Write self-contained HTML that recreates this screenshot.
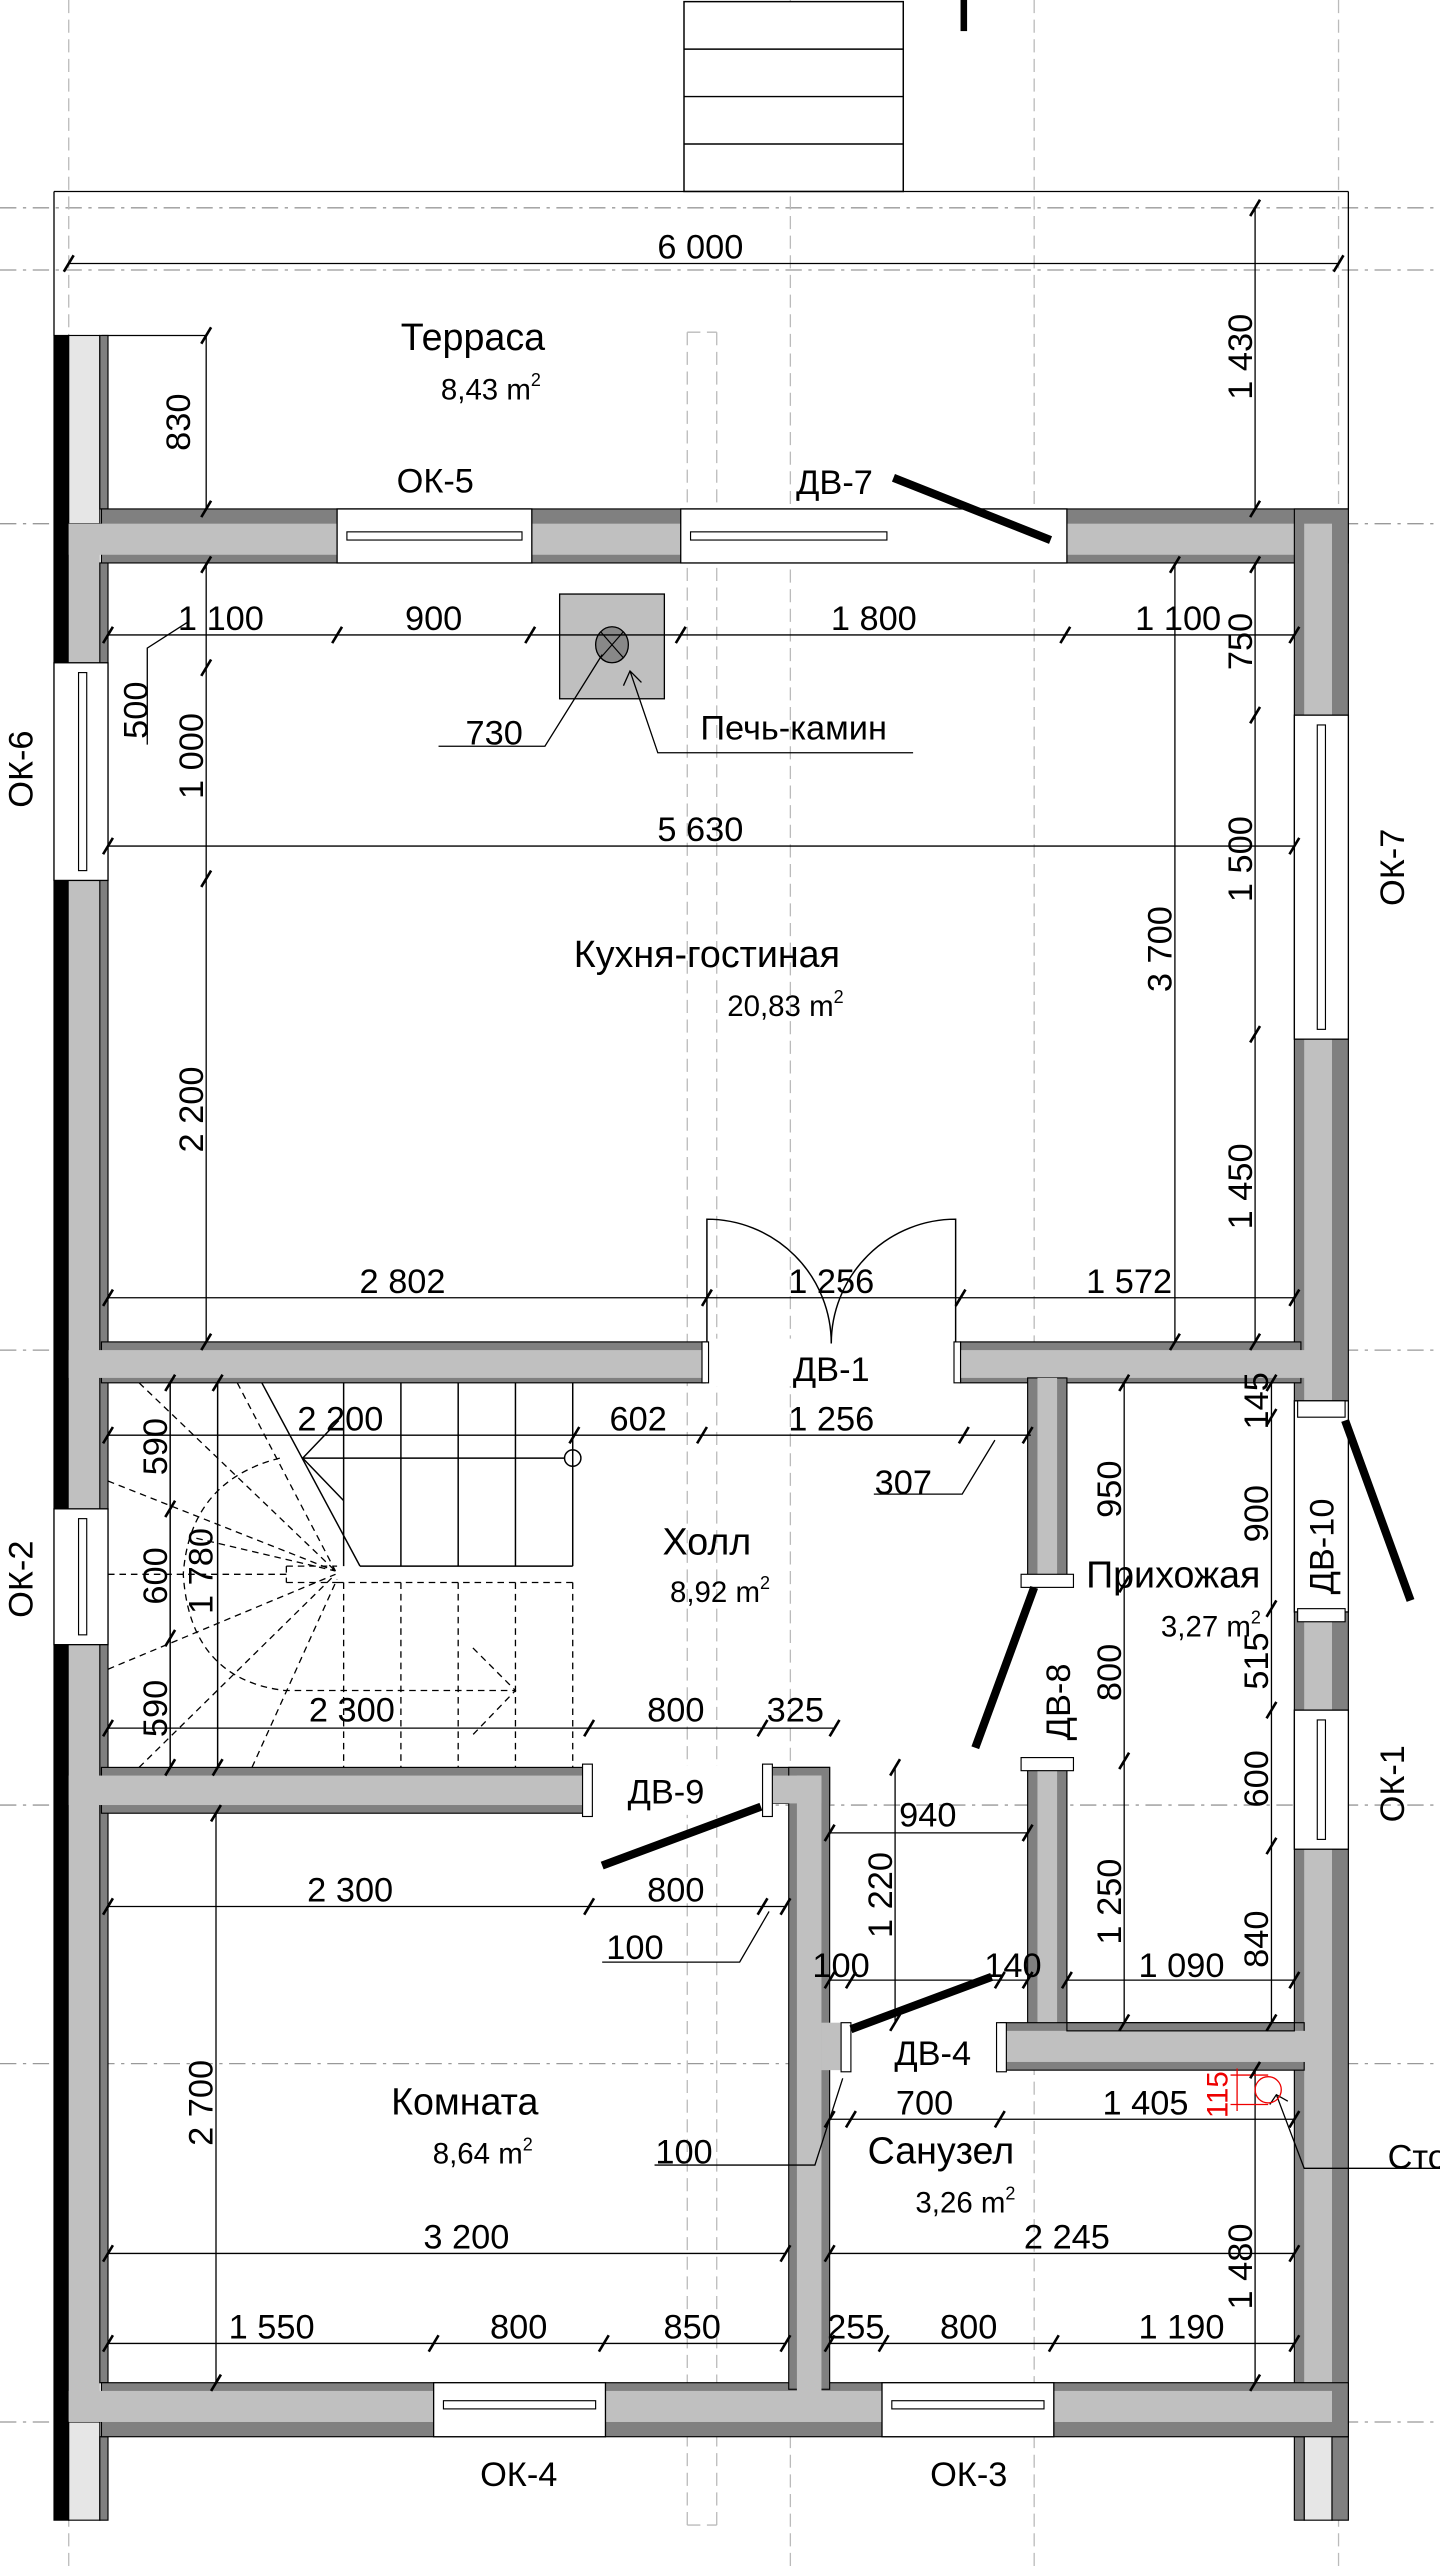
<!DOCTYPE html>
<html><head><meta charset="utf-8"><style>
html,body{margin:0;padding:0;background:#fff}
svg{display:block}
text{font-family:"Liberation Sans",sans-serif;fill:#000}
.d{font-size:21px}
.r{font-size:23px}
</style></head><body>
<svg width="1440" height="2566" viewBox="0 0 880 1568" preserveAspectRatio="none" xmlns="http://www.w3.org/2000/svg">
<defs>
<path id="t" d="M-3,5 L3,-5" stroke="#000" stroke-width="1.6"/>
</defs>
<!-- grid lines -->
<g stroke="#999" stroke-width="0.8" stroke-dasharray="10,4,2,4" fill="none">
<line x1="0" y1="127" x2="880" y2="127"/><line x1="0" y1="165" x2="880" y2="165"/>
<line x1="0" y1="320" x2="880" y2="320"/><line x1="0" y1="825" x2="880" y2="825"/>
<line x1="0" y1="1103" x2="880" y2="1103"/><line x1="0" y1="1261" x2="880" y2="1261"/>
<line x1="0" y1="1480" x2="880" y2="1480"/>
</g>
<g stroke="#bbb" stroke-width="0.8" stroke-dasharray="8,4" fill="none">
<line x1="42" y1="0" x2="42" y2="1568"/><line x1="483" y1="0" x2="483" y2="1568"/>
<line x1="632" y1="0" x2="632" y2="1568"/><line x1="818" y1="0" x2="818" y2="1568"/>
<line x1="420" y1="203" x2="420" y2="1543"/><line x1="438" y1="203" x2="438" y2="1543"/>
<line x1="420" y1="203" x2="438" y2="203"/><line x1="420" y1="1543" x2="438" y2="1543"/>
</g>
<!-- top stair -->
<g stroke="#000" stroke-width="0.9" fill="#fff">
<rect x="418" y="1" width="134" height="116"/>
<line x1="418" y1="30" x2="552" y2="30"/><line x1="418" y1="59" x2="552" y2="59"/><line x1="418" y1="88" x2="552" y2="88"/>
</g>
<rect x="587" y="0" width="4" height="19" fill="#000"/>
<!-- terrace outline -->
<g stroke="#000" stroke-width="0.8" fill="none">
<line x1="33" y1="117" x2="824" y2="117"/><line x1="33" y1="117" x2="33" y2="205"/><line x1="824" y1="117" x2="824" y2="311"/>
<line x1="62" y1="205" x2="126" y2="205"/>
</g>
<!-- walls -->
<g stroke="#000" stroke-width="0.7">
<!-- left wall -->
<rect x="33" y="205" width="9" height="1335" fill="#000"/>
<rect x="42" y="205" width="19" height="115" fill="#e6e6e6"/>
<rect x="61" y="205" width="5" height="106" fill="#808080"/>
<rect x="42" y="320" width="19" height="1160" fill="#c0c0c0" stroke="none"/>
<rect x="61" y="344" width="5" height="1112" fill="#808080"/>
<rect x="42" y="1480" width="19" height="60" fill="#e6e6e6"/>
<rect x="61" y="1489" width="5" height="51" fill="#808080"/>
<!-- top wall -->
<rect x="62" y="311" width="762" height="33" fill="#808080"/>
<rect x="42" y="320" width="772" height="19" fill="#c0c0c0" stroke="none"/>
<!-- right wall -->
<rect x="791" y="311" width="33" height="1178" fill="#808080"/>
<rect x="797" y="320" width="17" height="1160" fill="#c0c0c0" stroke="none"/>
<rect x="797" y="1480" width="17" height="60" fill="#e6e6e6"/>
<rect x="791" y="1489" width="6" height="51" fill="#808080"/>
<rect x="814" y="1489" width="10" height="51" fill="#808080"/>
<!-- bottom wall -->
<rect x="62" y="1456" width="762" height="33" fill="#808080"/>
<rect x="42" y="1461" width="772" height="19" fill="#c0c0c0" stroke="none"/>
<!-- kitchen/hall wall -->
<rect x="62" y="820" width="369" height="25" fill="#808080"/>
<rect x="42" y="825" width="389" height="17" fill="#c0c0c0" stroke="none"/>
<rect x="587" y="820" width="208" height="25" fill="#808080"/>
<rect x="587" y="825" width="227" height="17" fill="#c0c0c0" stroke="none"/>
<!-- prihozhaya left wall -->
<rect x="628" y="842" width="24" height="396" fill="#808080"/>
<rect x="634" y="842" width="12" height="396" fill="#c0c0c0" stroke="none"/>
<!-- stair/room wall -->
<rect x="62" y="1080" width="297" height="28" fill="#808080"/>
<rect x="42" y="1085" width="317" height="18" fill="#c0c0c0" stroke="none"/>
<!-- room/bath vertical -->
<rect x="470" y="1080" width="37" height="22" fill="#808080"/>
<rect x="482" y="1080" width="25" height="380" fill="#808080"/>
<rect x="487" y="1085" width="15" height="390" fill="#c0c0c0" stroke="none"/>
<rect x="470" y="1085" width="32" height="17" fill="#c0c0c0" stroke="none"/>
<!-- bath top wall -->
<rect x="611" y="1236" width="186" height="29" fill="#808080"/>
<rect x="611" y="1241" width="203" height="19" fill="#c0c0c0" stroke="none"/>
<rect x="652" y="1236" width="139" height="5" fill="#808080"/>
<rect x="502" y="1236" width="15" height="29" fill="#c0c0c0" stroke="none"/>
</g>
<!-- openings -->
<g stroke="#000" stroke-width="0.8" fill="#fff">
<rect x="206" y="311" width="119" height="33"/><rect x="416" y="311" width="236" height="33"/>
<rect x="791" y="437" width="33" height="198"/><rect x="791" y="856" width="33" height="129"/><rect x="791" y="1045" width="33" height="85"/>
<rect x="33" y="405" width="33" height="133"/><rect x="33" y="922" width="33" height="83"/>
<rect x="265" y="1456" width="105" height="33"/><rect x="539" y="1456" width="105" height="33"/>
</g>
<g fill="#fff" stroke="none">
<rect x="432" y="818" width="152" height="29"/>
<rect x="627" y="968" width="26" height="108"/>
<rect x="359" y="1079" width="111" height="30"/>
<rect x="517" y="1235" width="94" height="31"/>
</g>
<!-- window glazing -->
<g stroke="#000" stroke-width="0.7" fill="#fff">
<rect x="212" y="325" width="107" height="5"/><rect x="422" y="325" width="120" height="5"/>
<rect x="805" y="443" width="5" height="186"/><rect x="805" y="1051" width="5" height="73"/>
<rect x="48" y="411" width="5" height="121"/><rect x="48" y="928" width="5" height="71"/>
<rect x="271" y="1467" width="93" height="5"/><rect x="545" y="1467" width="93" height="5"/>
<!-- jambs -->
<rect x="356" y="1078" width="6" height="32"/><rect x="466" y="1078" width="6" height="32"/>
<rect x="624" y="962" width="32" height="8"/><rect x="624" y="1074" width="32" height="8"/>
<rect x="793" y="856" width="29" height="10"/><rect x="793" y="983" width="29" height="8"/>
<rect x="514" y="1236" width="6" height="30"/><rect x="609" y="1236" width="6" height="30"/>
<rect x="429" y="820" width="4" height="25"/><rect x="583" y="820" width="4" height="25"/>
</g>
<!-- door leaves -->
<g stroke="#000" stroke-width="5" stroke-linecap="butt">
<line x1="546" y1="292" x2="642" y2="330"/>
<line x1="822" y1="868" x2="862" y2="978"/>
<line x1="632" y1="970" x2="596" y2="1068"/>
<line x1="368" y1="1140" x2="465" y2="1104"/>
<line x1="520" y1="1240" x2="606" y2="1208"/>
</g>
<g stroke="#000" stroke-width="0.9" fill="none">
<path d="M432,820 V745 A76,76 0 0 1 508,821"/>
<path d="M584,820 V745 A76,76 0 0 0 508,821"/>
</g>
<!-- fireplace -->
<rect x="342" y="363" width="64" height="64" fill="#bfbfbf" stroke="#000" stroke-width="0.8"/>
<ellipse cx="374" cy="394" rx="10" ry="11" fill="#888" stroke="#000" stroke-width="0.8"/>
<path d="M367,386 L381,402 M381,386 L367,402" stroke="#000" stroke-width="0.7"/>
<!-- stair in hall -->
<g stroke="#000" stroke-width="0.9" fill="none">
<path d="M210,845 V957 M245,845 V957 M280,845 V957 M315,845 V957 M350,845 V957 M220,957 H350"/>
<line x1="160" y1="845" x2="220" y2="957"/>
<line x1="185" y1="891" x2="345" y2="891"/>
<circle cx="350" cy="891" r="5"/>
<path d="M207,868 L185,891 L210,917"/>
<line x1="104" y1="845" x2="104" y2="1080"/><line x1="133" y1="845" x2="133" y2="1080"/>
</g>
<g stroke="#000" stroke-width="0.8" fill="none" stroke-dasharray="4,3">
<path d="M175,957 H206 M175,957 V967 M175,967 H206 M206,967 H350 M66,962 H175"/>
<path d="M210,967 V1080 M245,967 V1080 M280,967 V1080 M315,967 V1080 M350,967 V1080"/>
<path d="M171,891 Q116,905 112,962 Q116,1026 174,1033 H315 M289,1007 L315,1033 L289,1060"/>
<path d="M85,845 L205,960 M145,845 L205,960 M66,905 L205,960 M66,1020 L205,962 M85,1080 L205,962 M154,1080 L206,965 M120,940 L205,960"/>
</g>
<!-- dimension lines -->
<g stroke="#000" stroke-width="0.8" fill="none">
<line x1="42" y1="161" x2="818" y2="161"/>
<line x1="767" y1="127" x2="767" y2="311"/>
<line x1="126" y1="205" x2="126" y2="311"/>
<line x1="66" y1="388" x2="791" y2="388"/>
<line x1="126" y1="345" x2="126" y2="820"/>
<path d="M90,455 V396 L115,380"/>
<path d="M268,456 H333 L368,400"/>
<path d="M558,460 H402 L385,410 M381,419 L385,410 L392,417"/>
<line x1="66" y1="517" x2="791" y2="517"/>
<line x1="767" y1="345" x2="767" y2="820"/>
<line x1="718" y1="345" x2="718" y2="820"/>
<line x1="66" y1="793" x2="791" y2="793"/>
<line x1="66" y1="877" x2="630" y2="877"/>
<path d="M534,913 H588 L608,880"/>
<line x1="66" y1="1056" x2="510" y2="1056"/>
<line x1="687" y1="845" x2="687" y2="1236"/>
<line x1="777" y1="845" x2="777" y2="1236"/>
<line x1="652" y1="1210" x2="791" y2="1210"/>
<line x1="507" y1="1120" x2="628" y2="1120"/>
<line x1="547" y1="1080" x2="547" y2="1236"/>
<line x1="507" y1="1210" x2="628" y2="1210"/>
<line x1="66" y1="1165" x2="480" y2="1165"/>
<path d="M368,1199 H452 L470,1168"/>
<line x1="132" y1="1108" x2="132" y2="1456"/>
<path d="M400,1323 H498 L515,1270"/>
<line x1="66" y1="1377" x2="480" y2="1377"/>
<line x1="66" y1="1432" x2="480" y2="1432"/>
<line x1="507" y1="1295" x2="791" y2="1295"/>
<line x1="507" y1="1377" x2="791" y2="1377"/>
<line x1="767" y1="1265" x2="767" y2="1456"/>
<line x1="507" y1="1432" x2="791" y2="1432"/>
<path d="M880,1325 H797 L780,1280 M776,1286 L780,1280 L787,1284"/>
</g>
<!-- red -->
<g stroke="#e00" stroke-width="0.8" fill="none">
<circle cx="775" cy="1277" r="8"/>
<path d="M752,1268 H775 M752,1286 H775 M756,1264 V1290"/>
</g>
<text x="744" y="1280" fill="#e00" style="fill:#e00" font-size="18" text-anchor="middle" transform="rotate(-90 744 1280)" dy="6">115</text>
<!-- ticks -->
<g>
<use href="#t" x="42" y="161"/><use href="#t" x="818" y="161"/>
<use href="#t" x="767" y="127"/><use href="#t" x="767" y="311"/>
<use href="#t" x="126" y="205"/><use href="#t" x="126" y="311"/>
<use href="#t" x="66" y="388"/><use href="#t" x="206" y="388"/><use href="#t" x="324" y="388"/><use href="#t" x="416" y="388"/><use href="#t" x="651" y="388"/><use href="#t" x="791" y="388"/>
<use href="#t" x="126" y="345"/><use href="#t" x="126" y="408"/><use href="#t" x="126" y="537"/><use href="#t" x="126" y="820"/>
<use href="#t" x="66" y="517"/><use href="#t" x="791" y="517"/>
<use href="#t" x="767" y="345"/><use href="#t" x="767" y="437"/><use href="#t" x="767" y="632"/><use href="#t" x="767" y="820"/>
<use href="#t" x="718" y="345"/><use href="#t" x="718" y="820"/>
<use href="#t" x="66" y="793"/><use href="#t" x="432" y="793"/><use href="#t" x="587" y="793"/><use href="#t" x="791" y="793"/>
<use href="#t" x="66" y="877"/><use href="#t" x="351" y="877"/><use href="#t" x="429" y="877"/><use href="#t" x="589" y="877"/><use href="#t" x="628" y="877"/>
<use href="#t" x="104" y="845"/><use href="#t" x="104" y="922"/><use href="#t" x="104" y="1001"/><use href="#t" x="104" y="1080"/>
<use href="#t" x="133" y="845"/><use href="#t" x="133" y="1080"/>
<use href="#t" x="66" y="1056"/><use href="#t" x="360" y="1056"/><use href="#t" x="466" y="1056"/><use href="#t" x="510" y="1056"/>
<use href="#t" x="687" y="845"/><use href="#t" x="687" y="968"/><use href="#t" x="687" y="1076"/><use href="#t" x="687" y="1236"/>
<use href="#t" x="777" y="845"/><use href="#t" x="777" y="866"/><use href="#t" x="777" y="983"/><use href="#t" x="777" y="1045"/><use href="#t" x="777" y="1128"/><use href="#t" x="777" y="1236"/>
<use href="#t" x="652" y="1210"/><use href="#t" x="791" y="1210"/>
<use href="#t" x="507" y="1120"/><use href="#t" x="628" y="1120"/>
<use href="#t" x="547" y="1080"/><use href="#t" x="547" y="1236"/>
<use href="#t" x="507" y="1210"/><use href="#t" x="520" y="1210"/><use href="#t" x="611" y="1210"/><use href="#t" x="628" y="1210"/>
<use href="#t" x="66" y="1165"/><use href="#t" x="360" y="1165"/><use href="#t" x="466" y="1165"/><use href="#t" x="480" y="1165"/>
<use href="#t" x="132" y="1108"/><use href="#t" x="132" y="1456"/>
<use href="#t" x="66" y="1377"/><use href="#t" x="480" y="1377"/>
<use href="#t" x="66" y="1432"/><use href="#t" x="265" y="1432"/><use href="#t" x="369" y="1432"/><use href="#t" x="480" y="1432"/>
<use href="#t" x="507" y="1295"/><use href="#t" x="520" y="1295"/><use href="#t" x="611" y="1295"/><use href="#t" x="791" y="1295"/>
<use href="#t" x="507" y="1377"/><use href="#t" x="791" y="1377"/>
<use href="#t" x="767" y="1265"/><use href="#t" x="767" y="1456"/>
<use href="#t" x="507" y="1432"/><use href="#t" x="540" y="1432"/><use href="#t" x="644" y="1432"/><use href="#t" x="791" y="1432"/>
</g>
<!-- texts horizontal -->
<g class="d" text-anchor="middle">
<text x="428" y="158">6 000</text>
<text x="135" y="385">1 100</text><text x="265" y="385">900</text><text x="534" y="385">1 800</text><text x="720" y="385">1 100</text>
<text x="302" y="455">730</text>
<text x="428" y="514">5 630</text>
<text x="246" y="790">2 802</text><text x="508" y="790">1 256</text><text x="690" y="790">1 572</text>
<text x="208" y="874">2 200</text><text x="390" y="874">602</text><text x="508" y="874">1 256</text>
<text x="552" y="913">307</text>
<text x="215" y="1052">2 300</text><text x="413" y="1052">800</text><text x="486" y="1052">325</text>
<text x="567" y="1116">940</text>
<text x="722" y="1208">1 090</text>
<text x="514" y="1208">100</text><text x="619" y="1208">140</text>
<text x="214" y="1162">2 300</text><text x="413" y="1162">800</text>
<text x="388" y="1197">100</text>
<text x="418" y="1322">100</text>
<text x="565" y="1292">700</text><text x="700" y="1292">1 405</text>
<text x="285" y="1374">3 200</text><text x="652" y="1374">2 245</text>
<text x="166" y="1429">1 550</text><text x="317" y="1429">800</text><text x="423" y="1429">850</text>
<text x="523" y="1429">255</text><text x="592" y="1429">800</text><text x="722" y="1429">1 190</text>
<text x="266" y="301">ОК-5</text><text x="510" y="302">ДВ-7</text>
<text x="508" y="844">ДВ-1</text><text x="407" y="1102">ДВ-9</text><text x="570" y="1262">ДВ-4</text>
<text x="317" y="1519">ОК-4</text><text x="592" y="1519">ОК-3</text>
<text x="485" y="452" text-anchor="middle">Печь-камин</text>
</g>
<text class="d" x="848" y="1325">Сто</text>
<g class="r" text-anchor="middle">
<text x="289" y="214">Терраса</text>
<text x="300" y="244" font-size="18">8,43 m<tspan font-size="11" dy="-8">2</tspan></text>
<text x="432" y="591">Кухня-гостиная</text>
<text x="480" y="621" font-size="18">20,83 m<tspan font-size="11" dy="-8">2</tspan></text>
<text x="432" y="950">Холл</text>
<text x="440" y="979" font-size="18">8,92 m<tspan font-size="11" dy="-8">2</tspan></text>
<text x="717" y="970">Прихожая</text>
<text x="740" y="1000" font-size="18">3,27 m<tspan font-size="11" dy="-8">2</tspan></text>
<text x="284" y="1292">Комната</text>
<text x="295" y="1322" font-size="18">8,64 m<tspan font-size="11" dy="-8">2</tspan></text>
<text x="575" y="1322">Санузел</text>
<text x="590" y="1352" font-size="18">3,26 m<tspan font-size="11" dy="-8">2</tspan></text>
</g>
<!-- rotated texts -->
<g class="d" text-anchor="middle">
<text transform="translate(116,258) rotate(-90)">830</text>
<text transform="translate(765,218) rotate(-90)">1 430</text>
<text transform="translate(90,434) rotate(-90)">500</text>
<text transform="translate(124,462) rotate(-90)">1 000</text>
<text transform="translate(124,678) rotate(-90)">2 200</text>
<text transform="translate(765,392) rotate(-90)">750</text>
<text transform="translate(765,525) rotate(-90)">1 500</text>
<text transform="translate(765,725) rotate(-90)">1 450</text>
<text transform="translate(716,580) rotate(-90)">3 700</text>
<text transform="translate(102,884) rotate(-90)">590</text>
<text transform="translate(102,963) rotate(-90)">600</text>
<text transform="translate(102,1044) rotate(-90)">590</text>
<text transform="translate(130,960) rotate(-90)">1 780</text>
<text transform="translate(685,910) rotate(-90)">950</text>
<text transform="translate(685,1022) rotate(-90)">800</text>
<text transform="translate(685,1162) rotate(-90)">1 250</text>
<text transform="translate(775,856) rotate(-90)">145</text>
<text transform="translate(775,925) rotate(-90)">900</text>
<text transform="translate(775,1015) rotate(-90)">515</text>
<text transform="translate(775,1087) rotate(-90)">600</text>
<text transform="translate(775,1185) rotate(-90)">840</text>
<text transform="translate(545,1158) rotate(-90)">1 220</text>
<text transform="translate(130,1285) rotate(-90)">2 700</text>
<text transform="translate(765,1385) rotate(-90)">1 480</text>
<text transform="translate(815,945) rotate(-90)">ДВ-10</text>
<text transform="translate(654,1040) rotate(-90)">ДВ-8</text>
<text transform="translate(20,470) rotate(-90)">ОК-6</text>
<text transform="translate(20,965) rotate(-90)">ОК-2</text>
<text transform="translate(858,530) rotate(-90)">ОК-7</text>
<text transform="translate(858,1090) rotate(-90)">ОК-1</text>
</g>
</svg>
</body></html>
